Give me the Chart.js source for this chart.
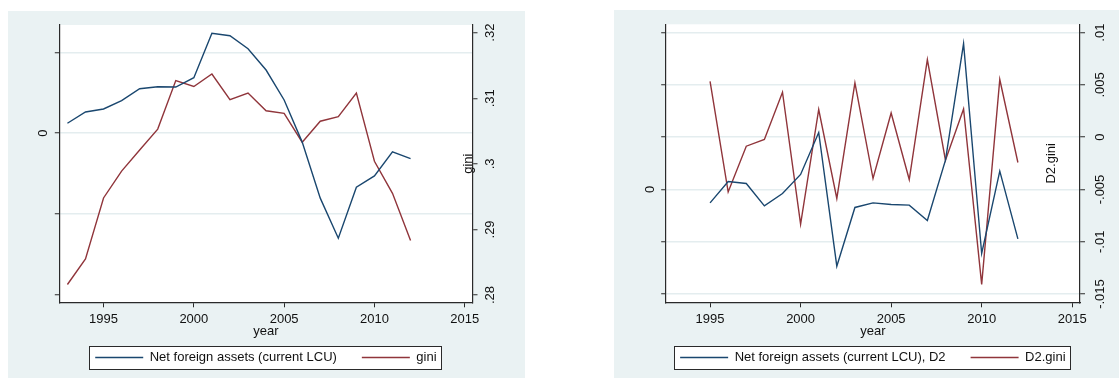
<!DOCTYPE html>
<html>
<head>
<meta charset="utf-8">
<script src="https://cdn.jsdelivr.net/npm/chart.js@4.4.1/dist/chart.umd.min.js"></script>
<style>
html,body{margin:0;padding:0;background:#ffffff;width:1119px;height:378px;overflow:hidden}
.panel{position:absolute;background:#eaf2f3;overflow:hidden}
#panelA{left:8px;top:11px;width:517px;height:367px}
#panelB{left:614px;top:10px;width:505px;height:368px}
.panel canvas{position:absolute;left:0;top:0}
</style>
</head>
<body>
<div class="panel" id="panelA"><canvas id="chartA" width="517" height="363"></canvas></div>
<div class="panel" id="panelB"><canvas id="chartB" width="505" height="364"></canvas></div>
<script>
// ---------------- data ----------------
// Left graph: levels, 1993-2012
const yearsA = [1993,1994,1995,1996,1997,1998,1999,2000,2001,2002,2003,2004,2005,2006,2007,2008,2009,2010,2011,2012];
// Net foreign assets (current LCU), in units of the left-axis tick interval (only "0" is labelled)
const netForeignAssets = [0.124,0.264,0.301,0.405,0.553,0.578,0.574,0.690,1.241,1.211,1.050,0.785,0.413,-0.110,-0.806,-1.303,-0.670,-0.530,-0.232,-0.315];
const gini = [0.2816,0.2855,0.2948,0.2989,0.3021,0.3053,0.3127,0.3118,0.3137,0.3098,0.3108,0.3081,0.3077,0.3033,0.3065,0.3072,0.3108,0.3004,0.2955,0.2883];

// Right graph: second differences, 1995-2012
const yearsB = [1995,1996,1997,1998,1999,2000,2001,2002,2003,2004,2005,2006,2007,2008,2009,2010,2011,2012];
const d2NetForeignAssets = [-0.256,0.153,0.115,-0.313,-0.077,0.287,1.090,-1.467,-0.344,-0.256,-0.287,-0.300,-0.593,0.560,2.790,-1.224,0.350,-0.944];
const d2Gini = [0.00535,-0.00523,-0.00086,-0.00022,0.0043,-0.00832,0.00265,-0.00586,0.0052,-0.00395,0.00232,-0.00405,0.00743,-0.0022,0.0027,-0.01408,0.00552,-0.00242];

// ticks and labels
const xTicks = [1995,2000,2005,2010,2015];
const xTickLabels = ['1995','2000','2005','2010','2015'];
const nfaTicks = [-2,-1,0,1];
const nfaTickLabels = ['','','0',''];
const giniTicks = [0.28,0.29,0.30,0.31,0.32];
const giniTickLabels = ['.28','.29','.3','.31','.32'];
const d2NfaTicks = [-2,-1,0,1,2,3];
const d2NfaTickLabels = ['','','0','','',''];
const d2GiniTicks = [-0.015,-0.01,-0.005,0,0.005,0.01];
const d2GiniTickLabels = ['-.015','-.01','-.005','0','.005','.01'];

// ---------------- styling ----------------
const NAVY = '#1a476f', MAROON = '#90353b';
const AXIS = '#2a2a2a', GRID = '#e4edef', TEXT = '#111111';
const FONT = "'Liberation Sans', Arial, Helvetica, sans-serif";
Chart.defaults.font.family = FONT;
Chart.defaults.font.size = 13;
Chart.defaults.color = TEXT;

const pairs = (xs, ys) => xs.map((x, i) => ({x: x, y: ys[i]}));
const fixedTicks = values => scale => { scale.ticks = values.map(v => ({value: v})); };
const labelsFrom = labels => (value, index) => labels[index];
const forceWidth = w => s => { s.width = w; s.paddingTop = 0; s.paddingBottom = 0; };
const forceHeight = h => s => { s.height = h; s.paddingLeft = 0; s.paddingRight = 0; };

function legendFrame(chart) {
  const lg = chart.legend;
  const hb = lg && lg.legendHitBoxes;
  if (!hb || !hb.length) return null;
  const first = hb[0], last = hb[hb.length - 1];
  const cy = first.top + first.height / 2;
  const x0 = first.left - 6, x1 = last.left + last.width + 5;
  return {x: x0, y: cy - 11.5, w: x1 - x0, h: 23};
}

const stataFrame = {
  id: 'stataFrame',
  beforeDraw(chart) {
    const {ctx, chartArea: a} = chart;
    ctx.save();
    ctx.fillStyle = '#ffffff';
    ctx.fillRect(a.left, a.top, a.right - a.left, a.bottom - a.top);
    const b = legendFrame(chart);
    if (b) ctx.fillRect(b.x, b.y, b.w, b.h);
    ctx.restore();
  },
  afterDraw(chart, args, opts) {
    const {ctx, chartArea: a} = chart;
    ctx.save();
    const b = legendFrame(chart);
    if (b) {
      ctx.strokeStyle = AXIS;
      ctx.lineWidth = 1;
      ctx.strokeRect(Math.round(b.x) + 0.5, Math.round(b.y) + 0.5, Math.round(b.w), Math.round(b.h));
    }
    if (opts.title) {
      ctx.translate(a.right - opts.inset, (a.top + a.bottom) / 2);
      ctx.rotate(-Math.PI / 2);
      ctx.fillStyle = TEXT;
      ctx.font = '13px ' + FONT;
      ctx.textAlign = 'center';
      ctx.textBaseline = 'middle';
      ctx.fillText(opts.title, 0, 0);
    }
    ctx.restore();
  }
};

function xScale() {
  return {
    type: 'linear', min: 1992.55, max: 2015.43,
    afterBuildTicks: fixedTicks(xTicks),
    afterFit: forceHeight(23.7),
    ticks: {callback: labelsFrom(xTickLabels), padding: 3.9, autoSkip: false, maxRotation: 0, minRotation: 0, color: TEXT},
    grid: {drawOnChartArea: false, tickLength: 5, tickColor: AXIS, tickWidth: 1},
    border: {display: true, color: AXIS, width: 1.2},
    title: {display: true, text: 'year', color: TEXT, font: {size: 13}, padding: {top: 0, bottom: -13.0}}
  };
}

function yScale(opts) {
  return {
    type: 'linear', position: opts.position, min: opts.min, max: opts.max,
    afterBuildTicks: fixedTicks(opts.ticks),
    afterFit: forceWidth(opts.width),
    ticks: {callback: labelsFrom(opts.labels), padding: opts.pad, autoSkip: false,
            minRotation: 90, maxRotation: 90, crossAlign: 'center', color: TEXT},
    grid: {drawOnChartArea: opts.grid, color: opts.gridColor || GRID, lineWidth: 1.5,
           tickLength: opts.tl, tickColor: AXIS, tickWidth: 1},
    border: {display: true, color: AXIS, width: 1.2}
  };
}

function legendOpts() {
  return {
    display: true, position: 'bottom', align: 'center',
    labels: {usePointStyle: true, pointStyle: 'line', pointStyleWidth: 48, padding: 25,
             color: TEXT, font: {size: 13}}
  };
}

// ---------------- left graph ----------------
new Chart(document.getElementById('chartA'), {
  type: 'line',
  data: {
    datasets: [
      {label: 'Net foreign assets (current LCU)', data: pairs(yearsA, netForeignAssets),
       borderColor: NAVY, backgroundColor: NAVY, borderWidth: 1.4, yAxisID: 'yL'},
      {label: 'gini', data: pairs(yearsA, gini),
       borderColor: MAROON, backgroundColor: MAROON, borderWidth: 1.4, yAxisID: 'yR'}
    ]
  },
  options: {
    responsive: false, animation: false, devicePixelRatio: 1, events: [],
    layout: {padding: {top: 14, left: 0, right: 1.2, bottom: 0}},
    elements: {line: {tension: 0, fill: false}, point: {radius: 0, hoverRadius: 0}},
    plugins: {
      tooltip: {enabled: false},
      legend: legendOpts(),
      stataFrame: {title: 'gini', inset: 4.5}
    },
    scales: {
      x: xScale(),
      yL: yScale({position: 'left', min: -2.099, max: 1.344, ticks: nfaTicks, labels: nfaTickLabels,
                  width: 51.3, pad: 7.9, tl: 4.5, grid: true,
                  gridColor: c => (c.tick && c.tick.value === -2) ? 'rgba(0,0,0,0)' : GRID}),
      yR: yScale({position: 'right', min: 0.27889, max: 0.32117, ticks: giniTicks, labels: giniTickLabels,
                  width: 51.3, pad: 3.5, tl: 5, grid: false})
    }
  },
  plugins: [stataFrame]
});

// ---------------- right graph ----------------
new Chart(document.getElementById('chartB'), {
  type: 'line',
  data: {
    datasets: [
      {label: 'Net foreign assets (current LCU), D2', data: pairs(yearsB, d2NetForeignAssets),
       borderColor: NAVY, backgroundColor: NAVY, borderWidth: 1.4, yAxisID: 'yL'},
      {label: 'D2.gini', data: pairs(yearsB, d2Gini),
       borderColor: MAROON, backgroundColor: MAROON, borderWidth: 1.4, yAxisID: 'yR'}
    ]
  },
  options: {
    responsive: false, animation: false, devicePixelRatio: 1, events: [],
    layout: {padding: {top: 14.3, left: 12.7, right: 0, bottom: 0}},
    elements: {line: {tension: 0, fill: false}, point: {radius: 0, hoverRadius: 0}},
    plugins: {
      tooltip: {enabled: false},
      legend: legendOpts(),
      stataFrame: {title: 'D2.gini', inset: 28.5}
    },
    scales: {
      x: xScale(),
      yL: yScale({position: 'left', min: -2.159, max: 3.161, ticks: d2NfaTicks, labels: d2NfaTickLabels,
                  width: 39, pad: 7.6, tl: 4.5, grid: true}),
      yR: yScale({position: 'right', min: -0.01579, max: 0.0108, ticks: d2GiniTicks, labels: d2GiniTickLabels,
                  width: 39, pad: 0.2, tl: 5, grid: false})
    }
  },
  plugins: [stataFrame]
});
</script>
</body>
</html>
